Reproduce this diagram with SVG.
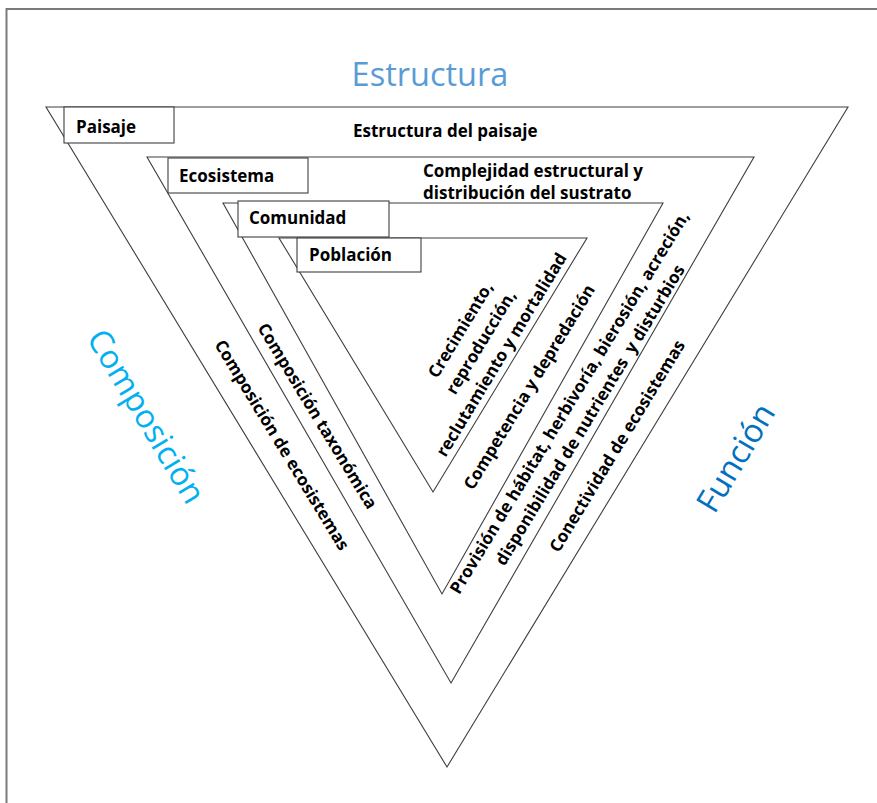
<svg xmlns="http://www.w3.org/2000/svg" width="877" height="803" viewBox="0 0 877 803">
  <style>
    .tri { fill: none; stroke: #3f3f3f; stroke-width: 1.1; }
    .box { fill: #ffffff; stroke: #3f3f3f; stroke-width: 1.1; }
    .lbl { font-family: "Open Sans", "Liberation Sans", sans-serif; font-weight: bold; font-size: 17px; fill: #000000; }
    .rot { text-anchor: middle; }
    .axis { font-family: "Open Sans", "Liberation Sans", sans-serif; font-size: 32.5px; text-anchor: middle; }
  </style>

  <!-- page frame -->
  <rect x="6.5" y="9" width="900" height="900" fill="#ffffff" stroke="#7a7a7a" stroke-width="2"/>

  <!-- axis titles -->
  <g id="axis-estructura">
    <text class="axis" x="430" y="86" fill="#5b9bd5">Estructura</text>
  </g>
  <g id="axis-composicion">
    <text class="axis" transform="translate(146,416.5) rotate(59)" x="0" y="11" fill="#00b0f0">Composición</text>
  </g>
  <g id="axis-funcion">
    <text class="axis" transform="translate(736,458) rotate(-59)" x="0" y="11" fill="#0070c0">Función</text>
  </g>

  <!-- landscape level -->
  <g id="paisaje">
    <polygon class="tri" points="46,107 848,107 447,767"/>
    <rect class="box" x="64" y="107" width="110" height="36"/>
    <text class="lbl" x="76" y="133">Paisaje</text>
    <text class="lbl" x="353" y="137">Estructura del paisaje</text>
    <text class="lbl rot" transform="translate(282,445) rotate(58.7)" x="0" y="6">Composición de ecosistemas</text>
    <text class="lbl rot" transform="translate(617,446) rotate(-58.7)" x="0" y="6">Conectividad de ecosistemas</text>
  </g>

  <!-- ecosystem level -->
  <g id="ecosistema">
    <polygon class="tri" points="147,157 754,157 451,683"/>
    <rect class="box" x="168" y="158" width="140" height="35"/>
    <text class="lbl" x="179" y="182">Ecosistema</text>
    <text class="lbl" x="423" y="177">Complejidad estructural y</text>
    <text class="lbl" x="423" y="199">distribución del sustrato</text>
    <text class="lbl rot" transform="translate(579.6,408.6) rotate(-58.7)" xml:space="preserve"><tspan x="0" y="-6">Provisión de hábitat, herbivoría, bierosión, acreción,</tspan><tspan x="0" y="18">disponibilidad de nutrientes  y disturbios</tspan></text>
  </g>

  <!-- community level -->
  <g id="comunidad">
    <polygon class="tri" points="223,203 663,203 442,594"/>
    <rect class="box" x="238" y="201" width="151" height="36"/>
    <text class="lbl" x="249" y="224">Comunidad</text>
    <text class="lbl rot" transform="translate(317.5,416) rotate(58.7)" x="0" y="6">Composición taxonómica</text>
    <text class="lbl rot" transform="translate(529.2,387) rotate(-58.7)" x="0" y="6">Competencia y depredación</text>
  </g>

  <!-- population level -->
  <g id="poblacion">
    <polygon class="tri" points="279,238 587,238 433,492"/>
    <rect class="box" x="297" y="238" width="124" height="34"/>
    <text class="lbl" x="309" y="261">Población</text>
    <text class="lbl rot" transform="translate(480.8,342.2) rotate(-58.7)"><tspan x="0" y="-18">Crecimiento,</tspan><tspan x="0" y="6">reproducción,</tspan><tspan x="0" y="30">reclutamiento y mortalidad</tspan></text>
  </g>

  <!-- no connectors in this figure -->
  <g id="connectors"/>
</svg>
